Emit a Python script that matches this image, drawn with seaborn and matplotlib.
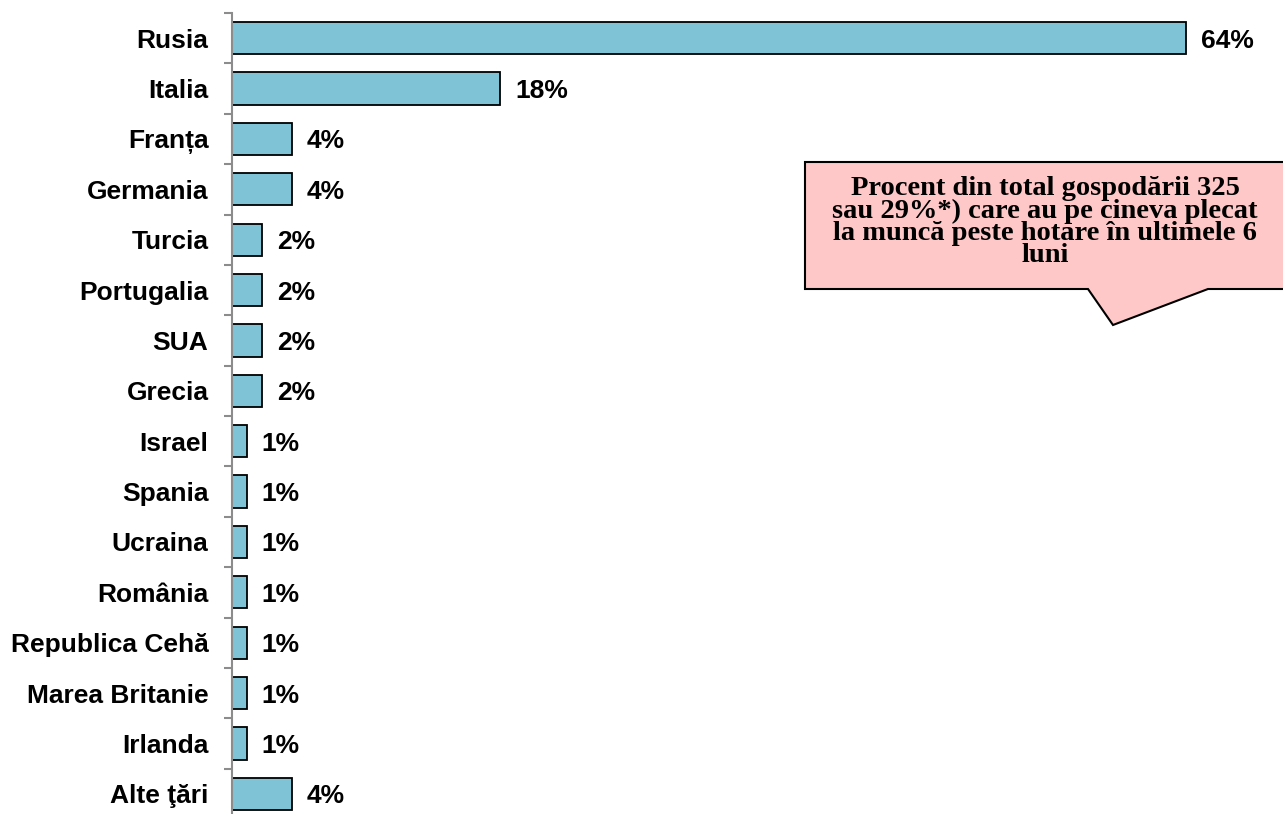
import matplotlib
matplotlib.use("Agg")
import matplotlib.pyplot as plt
import seaborn as sns
import pandas as pd
from matplotlib.patches import Polygon
from matplotlib.ticker import FixedLocator

countries = ["Rusia", "Italia", "Franța", "Germania", "Turcia", "Portugalia", "SUA",
             "Grecia", "Israel", "Spania", "Ucraina", "România", "Republica Cehă",
             "Marea Britanie", "Irlanda", "Alte ţări"]
shares = [64, 18, 4, 4, 2, 2, 2, 2, 1, 1, 1, 1, 1, 1, 1, 4]
note = "Procent din total gospodării 325\nsau 29%*) care au pe cineva plecat\nla muncă peste hotare în ultimele 6\nluni"

sns.set_theme(style="white")
plt.rcParams["font.family"] = ["Liberation Sans", "DejaVu Sans"]

W, H = 1283, 814
fig = plt.figure(figsize=(W / 100, H / 100), dpi=100)
ax = fig.add_axes([232 / W, -5 / H, 1043 / W, 806 / H])

df = pd.DataFrame({"tara": countries, "pct": shares})
sns.barplot(data=df, x="pct", y="tara", orient="h", color="#7FC4D6",
            saturation=1, edgecolor="black", linewidth=1.3, width=0.64, ax=ax)

ax.set_xlim(0, 70)
ax.set_ylim(len(countries) - 0.5, -0.5)
ax.set_xlabel("")
ax.set_ylabel("")
ax.set_xticks([])
for s in ["top", "right", "bottom"]:
    ax.spines[s].set_visible(False)
ax.spines["left"].set_color("#8C8C8C")
ax.spines["left"].set_linewidth(1.5)

ax.tick_params(axis="y", which="major", length=0, pad=17, labelsize=19,
               labelcolor="black")
ax.yaxis.set_minor_locator(FixedLocator([i - 0.5 for i in range(len(countries) + 1)]))
ax.tick_params(axis="y", which="minor", length=6, width=1.5, color="#8C8C8C", left=True)
for lbl in ax.get_yticklabels():
    lbl.set_fontweight("bold")

for i, v in enumerate(shares):
    ax.text(v + 1.0, i + 0.05, f"{v}%", va="center", ha="left",
            fontsize=19, fontweight="bold", color="black")

# speech-bubble callout with the explanatory note
def px(x, y):
    return (x / W, 1 - y / H)

bubble = [px(805, 162), px(1295, 162), px(1295, 289), px(1208, 289),
          px(1113, 325), px(1088, 289), px(805, 289)]
fig.patches.append(Polygon(bubble, closed=True, transform=fig.transFigure,
                           facecolor="#FFC8C8", edgecolor="black", linewidth=1.5,
                           clip_on=False))
fig.text(1045 / W, 1 - 222 / H, note, ha="center", va="center", color="black",
         family=["Liberation Serif", "DejaVu Serif"], fontweight="bold",
         fontsize=20.5, linespacing=0.84)

fig.savefig("out.png", dpi=100)
